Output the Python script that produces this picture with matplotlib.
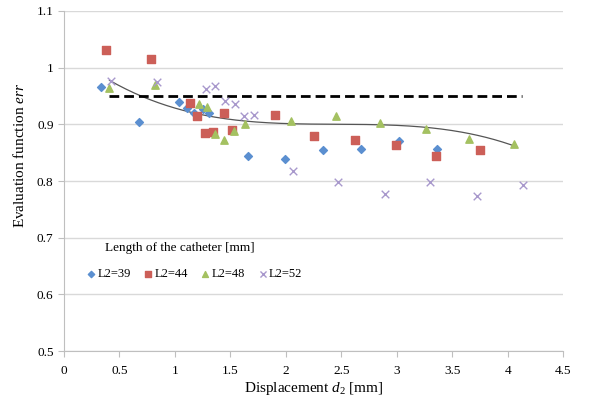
import numpy as np
import matplotlib.pyplot as plt

plt.rcParams['font.family'] = ['Liberation Serif', 'DejaVu Serif']
plt.rcParams['mathtext.fontset'] = 'custom'
plt.rcParams['mathtext.rm'] = 'Liberation Serif'
plt.rcParams['mathtext.it'] = 'Liberation Serif:italic'

# L2 = 39
d_39 = [0.33, 0.68, 1.04, 1.11, 1.17, 1.25, 1.31, 1.66, 1.99, 2.33, 2.68, 3.02, 3.36]
err_39 = [0.965, 0.905, 0.940, 0.929, 0.920, 0.927, 0.920, 0.845, 0.838, 0.854, 0.857, 0.870, 0.857]

# L2 = 44
d_44 = [0.38, 0.78, 1.14, 1.20, 1.27, 1.34, 1.44, 1.51, 1.90, 2.25, 2.62, 2.99, 3.35, 3.75]
err_44 = [1.031, 1.015, 0.938, 0.914, 0.885, 0.887, 0.920, 0.890, 0.917, 0.879, 0.872, 0.864, 0.844, 0.854]

# L2 = 48
d_48 = [0.41, 0.82, 1.22, 1.29, 1.36, 1.44, 1.53, 1.63, 2.05, 2.45, 2.85, 3.26, 3.65, 4.06]
err_48 = [0.964, 0.969, 0.936, 0.930, 0.883, 0.872, 0.888, 0.901, 0.906, 0.915, 0.902, 0.892, 0.874, 0.865]

# L2 = 52
d_52 = [0.42, 0.84, 1.28, 1.36, 1.45, 1.54, 1.62, 1.71, 2.06, 2.47, 2.89, 3.30, 3.72, 4.14]
err_52 = [0.977, 0.975, 0.962, 0.968, 0.942, 0.936, 0.914, 0.917, 0.818, 0.798, 0.777, 0.798, 0.774, 0.793]

# trend curve
trend_d = [0.41, 0.66, 0.99, 1.30, 1.73, 2.50, 3.00, 3.48, 3.72, 3.90, 4.06]
trend_err = [0.978, 0.952, 0.929, 0.917, 0.902, 0.901, 0.898, 0.890, 0.880, 0.872, 0.862]

threshold = 0.95
threshold_span = [0.41, 4.13]

fig = plt.figure(figsize=(5.98, 4.05), dpi=100)
ax = fig.add_axes([0.107, 0.133, 0.835, 0.84])

ax.scatter(d_39, err_39, marker='D', s=16, color='#5b8fd0', label='L2=39', zorder=3)
ax.scatter(d_44, err_44, marker='s', s=28, color='#cc5f58', label='L2=44', zorder=3)
ax.scatter(d_48, err_48, marker='^', s=28, color='#a4c161', label='L2=48', zorder=3)
ax.scatter(d_52, err_52, marker='x', s=30, color='#a898cc', linewidths=1.0, label='L2=52', zorder=3)

coef = np.polyfit(trend_d, trend_err, 3)
xs = np.linspace(trend_d[0], trend_d[-1], 200)
ax.plot(xs, np.polyval(coef, xs), color='#555555', lw=0.9, zorder=2)

ax.plot(threshold_span, [threshold, threshold], color='black', ls=(0, (3.5, 1.8)), lw=2.0, zorder=2)

ax.set_xlim(0, 4.5)
ax.set_ylim(0.5, 1.1)
ax.set_xticks(np.arange(0, 4.51, 0.5))
ax.set_xticklabels(['0', '0.5', '1', '1.5', '2', '2.5', '3', '3.5', '4', '4.5'])
ax.set_yticks(np.arange(0.5, 1.11, 0.1))
ax.set_yticklabels(['0.5', '0.6', '0.7', '0.8', '0.9', '1', '1.1'])
ax.grid(axis='y', color='#d9d9d9', lw=1.0)
ax.set_axisbelow(True)
for s in ['top', 'right']:
    ax.spines[s].set_visible(False)
for s in ['left', 'bottom']:
    ax.spines[s].set_color('#bfbfbf')
ax.tick_params(axis='x', length=4, color='#bfbfbf', labelsize=9.5, pad=6)
ax.tick_params(axis='y', length=4, color='#bfbfbf', labelsize=9.5)

ax.set_xlabel(r'Displacement $d_2$ [mm]', fontsize=11, labelpad=2)
ax.set_ylabel(r'Evaluation function $err$', fontsize=11)
ax.yaxis.set_label_coords(-0.074, 0.576)

ax.text(0.082, 0.303, 'Length of the catheter [mm]', transform=ax.transAxes,
        fontsize=9.5, ha='left', va='center')
ax.legend(loc='center left', bbox_to_anchor=(0.042, 0.226), ncol=4, frameon=False,
          fontsize=9, borderpad=0, borderaxespad=0,
          handletextpad=0.0, columnspacing=0.9, handlelength=1.0, markerscale=0.8)

fig.savefig('out.png', dpi=100)
